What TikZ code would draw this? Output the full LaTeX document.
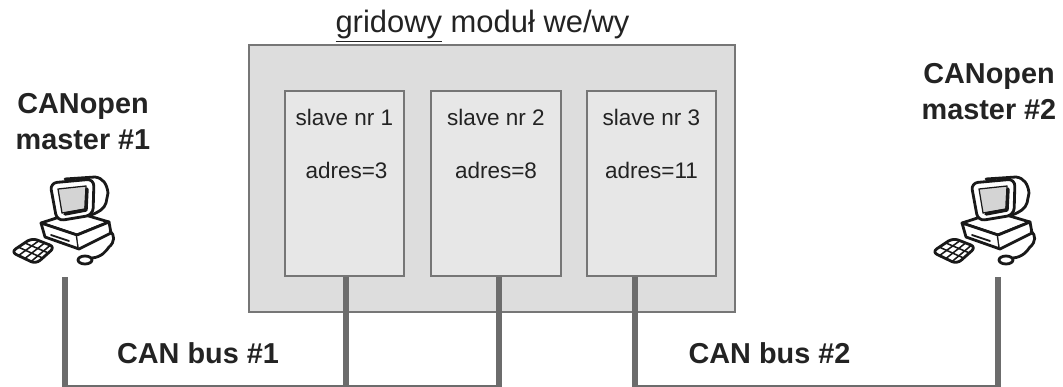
\documentclass[tikz,border=0pt]{standalone}
\usepackage{fontspec}
\setmainfont{Liberation Sans}
\usetikzlibrary{positioning,calc}

\definecolor{ModuleColor}{RGB}{221,221,221}
\definecolor{SlaveColor}{RGB}{231,231,231}
\definecolor{EdgeColor}{RGB}{118,118,118}
\definecolor{BusColor}{RGB}{108,108,108}
\definecolor{ScreenColor}{RGB}{212,212,212}
\definecolor{LabelColor}{RGB}{35,35,35}

\tikzstyle{base}=[rectangle,
                    draw=EdgeColor,
                    line width=0.9pt]
\tikzstyle{module}=[base, fill=ModuleColor, minimum width=12.15cm, minimum height=6.675cm]
\tikzstyle{slave}=[base, fill=SlaveColor, minimum height=4.625cm]
\tikzstyle{slavetext}=[font=\fontsize{16}{19}\selectfont, text=LabelColor]
\tikzstyle{titletext}=[font=\fontsize{22}{26}\selectfont, text=LabelColor]
\tikzstyle{master}=[font=\fontsize{20.5}{25}\selectfont\bfseries, align=center, text=LabelColor]
\tikzstyle{buslabel}=[font=\fontsize{20.5}{25}\selectfont\bfseries, text=LabelColor]
\tikzstyle{bus}=[draw=BusColor, line width=3.6pt]
\tikzstyle{icon}=[line width=2pt, line join=round, line cap=round, draw=black!90]

% clip-art PC, #1 = top left corner
\newcommand{\pcicon}[1]{%
  \begin{scope}[shift={#1}, icon]
    % desk unit
    \draw[fill=white] (36,58) -- (70,47) -- (104,57) -- (72,70) -- cycle;
    \draw[fill=white] (36,58) -- (40,72) -- (74,84) -- (72,70) -- cycle;
    \draw[fill=white] (72,70) -- (104,57) -- (106,68) -- (74,84);
    \draw[line width=1.3pt] (46,70) -- (64,76);
    % monitor
    \draw[fill=white] (60,14) -- (90,12) .. controls (98,13) and (102,19) .. (103,28)
                      -- (101,38) .. controls (99,44) and (94,47) .. (86,50);
    \draw[fill=white, rounded corners=5] (45,18) -- (89,14) -- (88,50) -- (52,56) -- cycle;
    \draw[fill=ScreenColor, line width=0.9pt] (53,24) -- (81,21) -- (80,44) -- (57,48) -- cycle;
    \draw[line width=2.4pt] (82,24) -- (81,45) -- (60,49);
    % keyboard
    \draw[fill=white, rounded corners=4] (6,87) -- (27,73) -- (50,82) -- (31,99) -- cycle;
    \foreach \k in {0.3,0.55,0.8} {
      \draw[line width=1.1pt] ($(6,87)!\k!(31,99)$) -- ($(27,73)!\k!(50,82)$);
    }
    \foreach \k in {0.35,0.65} {
      \draw[line width=1.1pt] ($(6,87)!\k!(27,73)$) -- ($(31,99)!\k!(50,82)$);
    }
    % mouse and cord
    \draw[fill=white] (80,95) ellipse [x radius=7, y radius=4];
    \draw (87,93) .. controls (97,92) and (101,86) .. (104,82)
                  .. controls (110,77) and (110,70) .. (105,66);
  \end{scope}}

\begin{document}
\begin{tikzpicture}[x=0.025cm, y=-0.025cm]
    \useasboundingbox (0,0) rectangle (1063,387);

      \node at (482.5,  26.0) (title)   [titletext]                                       {\underline{gridowy} moduł we/wy};
      \node at (492.0, 178.5) (module)  [module]                                          {};
      \node at (344.5, 183.5) (slave1)  [slave, minimum width=2.975cm]                    {};
      \node at (496.0, 183.5) (slave2)  [slave, minimum width=3.25cm]                     {};
      \node at (651.5, 183.5) (slave3)  [slave, minimum width=3.225cm]                    {};

      \node at (344.5, 117.5) (name1)   [slavetext]                                       {slave nr 1};
      \node at (496.0, 117.5) (name2)   [slavetext]                                       {slave nr 2};
      \node at (651.5, 117.5) (name3)   [slavetext]                                       {slave nr 3};
      \node at (346.5, 170.0) (addr1)   [slavetext]                                       {adres=3};
      \node at (496.0, 170.0) (addr2)   [slavetext]                                       {adres=8};
      \node at (651.5, 170.0) (addr3)   [slavetext]                                       {adres=11};

      \node at ( 83.0, 121.5) (master1) [master]                                          {CANopen\\master \#1};
      \node at (989.0,  91.5) (master2) [master]                                          {CANopen\\master \#2};
      \node at (198.0, 353.0) (bus1)    [buslabel]                                        {CAN bus \#1};
      \node at (769.5, 353.0) (bus2)    [buslabel]                                        {CAN bus \#2};

      \pcicon{(5,165)}
      \pcicon{(926,165)}

      % taps and the bus line along the bottom
      \coordinate (pc1)  at ( 65,277);
      \coordinate (pc2)  at (998,277);
      \coordinate (tap1) at (346,0);
      \coordinate (tap2) at (499,0);
      \coordinate (tap3) at (635,0);
      \coordinate (line) at (0,388);

      \draw[bus] (pc1) -- (pc1 |- line) -| (slave2.south -| tap2);
      \draw[bus] (slave1.south -| tap1) -- (tap1 |- line);
      \draw[bus] (slave3.south -| tap3) -- (tap3 |- line) -| (pc2);
  \end{tikzpicture}
\end{document}
